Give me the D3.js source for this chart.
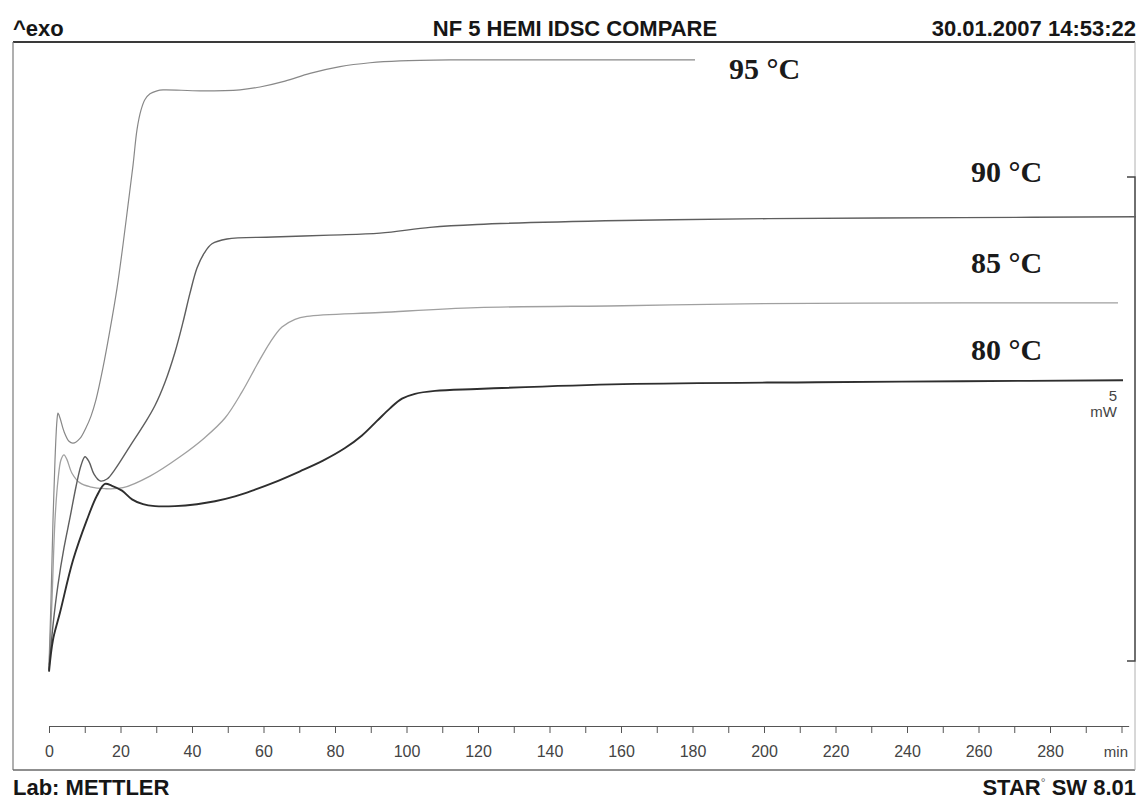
<!DOCTYPE html>
<html>
<head>
<meta charset="utf-8">
<script src="https://cdn.jsdelivr.net/npm/d3@7"></script>
<style>
  html, body { margin: 0; padding: 0; background: #fff; }
  svg { display: block; }
  .hdr { font-family: "Liberation Sans", Arial, sans-serif; font-weight: bold; font-size: 22px; fill: #161616; }
  .tick text { font-family: "Liberation Sans", Arial, sans-serif; font-size: 16px; fill: #444; }
  .lbl { font-family: "Liberation Serif", "Times New Roman", serif; font-weight: bold; font-size: 30px; fill: #1a1a1a; }
  .unit { font-family: "Liberation Sans", Arial, sans-serif; font-size: 15px; fill: #444; }
</style>
</head>
<body>
<script>
// Isothermal DSC runs, heat flow (mW) against time (min)
const t80  = [0, 1.12, 3.08, 6.71, 10.63, 13.43, 15.66, 17.62, 20.42, 23.22, 26.29, 29.65, 35.24, 41.40, 46.43, 52.03, 57.62, 62.66, 70.21, 76.64, 82.80, 87.55, 91.75, 95.38, 98.74, 102.38, 107.97, 119.72, 160.56, 214.83, 255.38, 300.42];
const mw80 = [-0.11, 0.22, 0.50, 1.04, 1.46, 1.71, 1.83, 1.81, 1.76, 1.67, 1.62, 1.60, 1.60, 1.62, 1.65, 1.70, 1.77, 1.84, 1.96, 2.07, 2.20, 2.33, 2.48, 2.61, 2.71, 2.76, 2.79, 2.81, 2.86, 2.88, 2.89, 2.90];

const t85  = [0, 0.84, 1.68, 2.52, 3.36, 4.20, 5.03, 6.43, 8.67, 11.47, 15.66, 20.70, 28.25, 36.64, 43.64, 49.23, 53.99, 58.18, 61.82, 65.17, 68.81, 72.17, 92.59, 119.72, 160.56, 194.41, 255.38, 299.02];
const mw85 = [-0.09, 0.63, 1.46, 1.87, 2.08, 2.13, 2.08, 1.94, 1.84, 1.80, 1.78, 1.79, 1.91, 2.11, 2.31, 2.51, 2.78, 3.06, 3.29, 3.45, 3.53, 3.56, 3.60, 3.65, 3.67, 3.69, 3.70, 3.70];

const t90  = [0, 1.12, 2.52, 4.20, 5.87, 7.55, 8.95, 10.07, 11.19, 12.59, 14.27, 16.22, 18.46, 22.66, 26.85, 29.65, 32.45, 35.24, 37.48, 39.44, 41.40, 43.36, 45.59, 49.79, 62.66, 78.60, 92.59, 106.57, 119.72, 160.56, 201.12, 255.38, 304.06];
const mw90 = [-0.09, 0.37, 0.79, 1.17, 1.48, 1.80, 2.02, 2.11, 2.06, 1.93, 1.86, 1.88, 1.98, 2.22, 2.46, 2.64, 2.88, 3.19, 3.50, 3.80, 4.06, 4.21, 4.31, 4.36, 4.38, 4.40, 4.42, 4.48, 4.51, 4.55, 4.57, 4.58, 4.59];

const t95  = [0, 0.56, 1.12, 1.68, 2.24, 2.52, 3.08, 4.20, 5.59, 6.71, 8.67, 10.35, 11.75, 13.15, 15.10, 17.06, 19.02, 20.70, 22.10, 23.50, 24.62, 25.73, 26.85, 28.25, 30.21, 31.89, 42.24, 53.43, 59.02, 66.01, 73.01, 81.40, 89.79, 98.18, 112.17, 140.14, 180.70];
const mw95 = [-0.04, 0.63, 1.46, 2.08, 2.49, 2.56, 2.51, 2.37, 2.27, 2.25, 2.30, 2.41, 2.53, 2.70, 3.03, 3.42, 3.85, 4.30, 4.71, 5.12, 5.49, 5.69, 5.80, 5.86, 5.89, 5.90, 5.89, 5.90, 5.93, 5.99, 6.07, 6.14, 6.18, 6.20, 6.21, 6.21, 6.21];

const curveNames = ["80 °C", "85 °C", "90 °C", "95 °C"];
const xTicks = d3.range(0, 301, 10);
const xTickLabels = d3.range(0, 281, 20);
const scaleBarMw = 5;

const W = 1140, H = 800;
const svg = d3.select("body").append("svg").attr("width", W).attr("height", H);

const x = d3.scaleLinear().domain([0, 302]).range([49, 49 + 302 * 3.575]);
const y = d3.scaleLinear().domain([0, scaleBarMw]).range([661, 177]);

// frame
const frame = { l: 13, t: 42, r: 1135, b: 770 };
svg.append("line").attr("x1", frame.l).attr("x2", frame.r).attr("y1", frame.t).attr("y2", frame.t)
  .attr("stroke", "#3a3a3a").attr("stroke-width", 2.2);
svg.append("line").attr("x1", frame.l).attr("x2", frame.l).attr("y1", frame.t).attr("y2", frame.b)
  .attr("stroke", "#7a7a7a").attr("stroke-width", 1.2);
svg.append("line").attr("x1", frame.l).attr("x2", frame.r).attr("y1", frame.b).attr("y2", frame.b)
  .attr("stroke", "#6a6a6a").attr("stroke-width", 1.4);
svg.append("line").attr("x1", frame.r).attr("x2", frame.r).attr("y1", frame.t).attr("y2", frame.b)
  .attr("stroke", "#b0b0b0").attr("stroke-width", 1);

// header and footer
svg.append("text").attr("class", "hdr").attr("x", 13).attr("y", 36).text("^exo");
svg.append("text").attr("class", "hdr").attr("x", 575).attr("y", 36).attr("text-anchor", "middle").text("NF 5 HEMI IDSC COMPARE");
svg.append("text").attr("class", "hdr").attr("x", 1136).attr("y", 36).attr("text-anchor", "end").text("30.01.2007 14:53:22");
svg.append("text").attr("class", "hdr").attr("x", 13).attr("y", 795).text("Lab: METTLER");
const star = svg.append("text").attr("class", "hdr").attr("x", 1136).attr("y", 795).attr("text-anchor", "end");
star.append("tspan").text("STAR");
star.append("tspan").attr("dy", -8).attr("font-size", 12).attr("font-weight", "normal").attr("fill", "#666").text("°");
star.append("tspan").attr("dy", 8).text(" SW 8.01");

// time axis
const axis = d3.axisBottom(x)
  .tickValues(xTicks)
  .tickSizeInner(7)
  .tickSizeOuter(0)
  .tickPadding(13)
  .tickFormat(d => xTickLabels.includes(d) ? d : "");
const ax = svg.append("g").attr("transform", "translate(0,726)").call(axis);
ax.select(".domain").attr("stroke", "#555").attr("stroke-width", 1.2);
ax.selectAll(".tick line").attr("stroke", "#555").attr("stroke-width", 1);
svg.append("text").attr("class", "unit").attr("x", 1128).attr("y", 757).attr("text-anchor", "end")
  .attr("font-size", 16).text("min");

// heat-flow scale bar
const sb = svg.append("g").attr("stroke", "#444").attr("stroke-width", 1.4).attr("fill", "none");
sb.append("path").attr("d", `M${frame.r - 8},${y(scaleBarMw)} H${frame.r} V${y(0)} H${frame.r - 8}`);
svg.append("text").attr("class", "unit").attr("x", 1117).attr("y", 401).attr("text-anchor", "end").text(scaleBarMw);
svg.append("text").attr("class", "unit").attr("x", 1117).attr("y", 417).attr("text-anchor", "end").text("mW");

// curves
const series = [
  { t: t85, v: mw85, color: "#a0a0a0", w: 1.3 },
  { t: t95, v: mw95, color: "#888888", w: 1.2 },
  { t: t90, v: mw90, color: "#5e5e5e", w: 1.4 },
  { t: t80, v: mw80, color: "#2e2e2e", w: 1.9 }
];
const line = d3.line().x(d => x(d[0])).y(d => y(d[1])).curve(d3.curveCatmullRom.alpha(0.5));
series.forEach(s => {
  svg.append("path")
    .datum(s.t.map((t, i) => [t, s.v[i]]))
    .attr("d", line)
    .attr("fill", "none")
    .attr("stroke", s.color)
    .attr("stroke-width", s.w)
    .attr("stroke-linejoin", "round");
});

// curve labels
const labelPos = [
  { name: curveNames[3], x: 729, y: 79 },
  { name: curveNames[2], x: 971, y: 182 },
  { name: curveNames[1], x: 971, y: 273 },
  { name: curveNames[0], x: 971, y: 360 }
];
labelPos.forEach(p => {
  svg.append("text").attr("class", "lbl").attr("x", p.x).attr("y", p.y).text(p.name);
});
</script>
</body>
</html>
